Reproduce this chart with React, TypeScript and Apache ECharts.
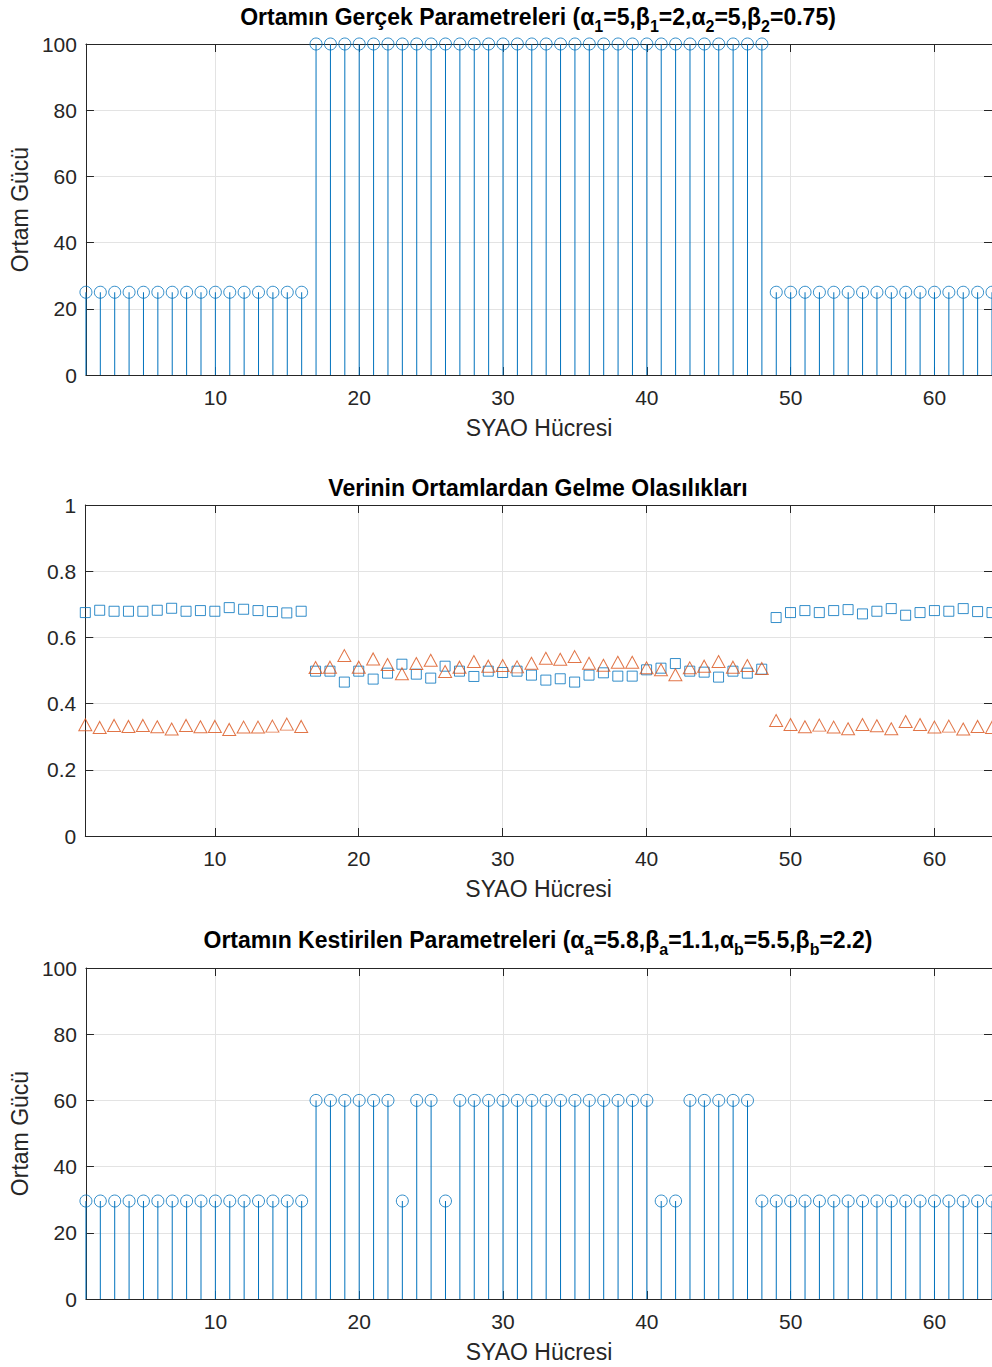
import React, { useEffect, useRef } from "react";
import * as echarts from "echarts";

const cells: number[] = [
  1, 2, 3, 4, 5, 6, 7, 8, 9, 10, 11, 12, 13, 14, 15, 16,
  17, 18, 19, 20, 21, 22, 23, 24, 25, 26, 27, 28, 29, 30, 31, 32,
  33, 34, 35, 36, 37, 38, 39, 40, 41, 42, 43, 44, 45, 46, 47, 48,
  49, 50, 51, 52, 53, 54, 55, 56, 57, 58, 59, 60, 61, 62, 63, 64,
];

const xTickValues: number[] = [10, 20, 30, 40, 50, 60];

const truePower: number[] = [
  25, 25, 25, 25, 25, 25, 25, 25, 25, 25, 25, 25, 25, 25, 25, 25,
  100, 100, 100, 100, 100, 100, 100, 100, 100, 100, 100, 100, 100, 100, 100, 100,
  100, 100, 100, 100, 100, 100, 100, 100, 100, 100, 100, 100, 100, 100, 100, 100,
  25, 25, 25, 25, 25, 25, 25, 25, 25, 25, 25, 25, 25, 25, 25, 25,
];

const probA: number[] = [
  0.675, 0.682, 0.679, 0.679, 0.679, 0.682, 0.688, 0.679, 0.681, 0.679, 0.69, 0.685, 0.681, 0.678, 0.674, 0.679,
  0.498, 0.498, 0.465, 0.498, 0.474, 0.492, 0.519, 0.489, 0.477, 0.513, 0.498, 0.482, 0.498, 0.494, 0.498, 0.486, 0.471,
  0.475, 0.465, 0.486, 0.493, 0.483, 0.483, 0.502, 0.507, 0.521, 0.498, 0.495, 0.48, 0.498, 0.492, 0.504,
  0.66, 0.675, 0.681, 0.675, 0.681, 0.684, 0.671, 0.679, 0.687, 0.667, 0.675, 0.681, 0.679, 0.687, 0.678, 0.675,
];

const probB: number[] = [
  0.336, 0.328, 0.334, 0.331, 0.334, 0.33, 0.323, 0.334, 0.33, 0.331, 0.322, 0.329, 0.329, 0.332, 0.338, 0.331,
  0.509, 0.51, 0.545, 0.51, 0.535, 0.518, 0.49, 0.521, 0.531, 0.497, 0.51, 0.527, 0.513, 0.515, 0.511, 0.522, 0.537,
  0.534, 0.542, 0.522, 0.516, 0.525, 0.525, 0.508, 0.502, 0.487, 0.508, 0.513, 0.527, 0.51, 0.515, 0.506,
  0.349, 0.337, 0.33, 0.335, 0.329, 0.324, 0.337, 0.333, 0.324, 0.346, 0.337, 0.329, 0.332, 0.323, 0.331, 0.328,
];

const estimatedPower: number[] = [
  29.6, 29.6, 29.6, 29.6, 29.6, 29.6, 29.6, 29.6, 29.6, 29.6, 29.6, 29.6, 29.6, 29.6, 29.6, 29.6,
  60, 60, 60, 60, 60, 60, 29.6, 60, 60, 29.6, 60, 60, 60, 60, 60, 60,
  60, 60, 60, 60, 60, 60, 60, 60, 29.6, 29.6, 60, 60, 60, 60, 60, 29.6,
  29.6, 29.6, 29.6, 29.6, 29.6, 29.6, 29.6, 29.6, 29.6, 29.6, 29.6, 29.6, 29.6, 29.6, 29.6, 29.6,
];

const xLabel = "SYAO Hücresi";
const yLabel = "Ortam Gücü";

const FONT = "'Liberation Sans', Arial, Helvetica, sans-serif";
const BLUE = "#0072BD";
const ORANGE = "#D95319";
const AXIS = "#262626";
const GRIDC = "#e3e3e3";

const pairs = (vals: number[]) => cells.map((c, i) => [c, vals[i]]);

const gridTops = [44, 505, 968];
const gridH = 331;

function xAxesFor(g: number, withName: boolean) {
  return [
    {
      gridIndex: g,
      type: "value",
      min: 1,
      max: 64,
      position: "bottom",
      axisLine: { show: true, onZero: false, lineStyle: { color: AXIS, width: 1 } },
      axisTick: { show: true, inside: true, length: 8, customValues: xTickValues, lineStyle: { color: AXIS } },
      axisLabel: { show: true, customValues: xTickValues, fontSize: 21, color: AXIS, fontFamily: FONT, margin: 12 },
      splitLine: { show: true, lineStyle: { color: GRIDC, width: 1 } },
      name: withName ? xLabel : "",
      nameLocation: "middle",
      nameGap: 41,
      nameTextStyle: { fontSize: 23, color: AXIS, fontFamily: FONT },
    },
    {
      gridIndex: g,
      type: "value",
      min: 1,
      max: 64,
      position: "top",
      axisLine: { show: true, onZero: false, lineStyle: { color: AXIS, width: 1 } },
      axisTick: { show: true, inside: true, length: 8, customValues: xTickValues, lineStyle: { color: AXIS } },
      axisLabel: { show: false },
      splitLine: { show: false },
    },
  ];
}

function yAxesFor(g: number, max: number, interval: number, withName: boolean) {
  return [
    {
      gridIndex: g,
      type: "value",
      min: 0,
      max,
      interval,
      position: "left",
      axisLine: { show: true, onZero: false, lineStyle: { color: AXIS, width: 1 } },
      axisTick: { show: true, inside: true, length: 8, lineStyle: { color: AXIS } },
      axisLabel: { show: true, fontSize: 21, color: AXIS, fontFamily: FONT, margin: 9 },
      splitLine: { show: true, lineStyle: { color: GRIDC, width: 1 } },
      name: withName ? yLabel : "",
      nameLocation: "middle",
      nameGap: 53,
      nameTextStyle: { fontSize: 23, color: AXIS, fontFamily: FONT },
    },
    {
      gridIndex: g,
      type: "value",
      min: 0,
      max,
      interval,
      position: "right",
      axisLine: { show: true, onZero: false, lineStyle: { color: AXIS, width: 1 } },
      axisTick: { show: true, inside: true, length: 8, lineStyle: { color: AXIS } },
      axisLabel: { show: false },
      splitLine: { show: false },
    },
  ];
}

function stemSeries(g: number, vals: number[]) {
  return [
    {
      type: "bar",
      xAxisIndex: 2 * g,
      yAxisIndex: 2 * g,
      barWidth: 1,
      itemStyle: { color: BLUE },
      data: pairs(vals),
      silent: true,
    },
    {
      type: "scatter",
      xAxisIndex: 2 * g,
      yAxisIndex: 2 * g,
      symbol: "circle",
      symbolSize: 12,
      clip: false,
      itemStyle: { color: "transparent", borderColor: BLUE, borderWidth: 1 },
      data: pairs(vals),
      silent: true,
    },
  ];
}

const titleMain = { fontSize: 23, fontWeight: "bold", fontFamily: FONT, fill: "#000" };
const titleSub = { fontSize: 16, fontWeight: "bold", fontFamily: FONT, fill: "#000", padding: [18, 0, 0, 0] };

function titleGraphic(text: string, y: number) {
  return {
    type: "text",
    x: 538,
    y,
    style: {
      text,
      align: "center",
      verticalAlign: "middle",
      fontSize: 23,
      fontWeight: "bold",
      fontFamily: FONT,
      fill: "#000",
      rich: { m: titleMain, s: titleSub },
    },
  };
}

export default function App() {
  const ref = useRef<HTMLDivElement>(null);
  useEffect(() => {
    if (!ref.current) return;
    const chart = echarts.init(ref.current, null, { renderer: "svg" });
    const option: any = {
      animation: false,
      backgroundColor: "#ffffff",
      textStyle: { fontFamily: FONT },
      grid: gridTops.map((t) => ({ left: 85.3, width: 908.1, top: t, height: gridH, containLabel: false })),
      xAxis: [...xAxesFor(0, true), ...xAxesFor(1, true), ...xAxesFor(2, true)],
      yAxis: [...yAxesFor(0, 100, 20, true), ...yAxesFor(1, 1, 0.2, false), ...yAxesFor(2, 100, 20, true)],
      series: [
        ...stemSeries(0, truePower),
        {
          type: "scatter",
          xAxisIndex: 2,
          yAxisIndex: 2,
          symbol: "rect",
          symbolSize: 10,
          clip: false,
          itemStyle: { color: "transparent", borderColor: BLUE, borderWidth: 1 },
          data: pairs(probA),
          silent: true,
        },
        {
          type: "scatter",
          xAxisIndex: 2,
          yAxisIndex: 2,
          symbol: "triangle",
          symbolSize: [13, 12],
          clip: false,
          itemStyle: { color: "transparent", borderColor: ORANGE, borderWidth: 1 },
          data: pairs(probB),
          silent: true,
        },
        ...stemSeries(2, estimatedPower),
      ],
      graphic: [
        titleGraphic("{m|Ortamın Gerçek Parametreleri (α}{s|1}{m|=5,β}{s|1}{m|=2,α}{s|2}{m|=5,β}{s|2}{m|=0.75)}", 17),
        titleGraphic("{m|Verinin Ortamlardan Gelme Olasılıkları}", 488),
        titleGraphic("{m|Ortamın Kestirilen Parametreleri (α}{s|a}{m|=5.8,β}{s|a}{m|=1.1,α}{s|b}{m|=5.5,β}{s|b}{m|=2.2)}", 940),
      ],
    };
    chart.setOption(option);
    return () => chart.dispose();
  }, []);
  return (
    <div
      ref={ref}
      style={{ position: "absolute", left: 0, top: 0, width: 992, height: 1367, background: "#fff" }}
    />
  );
}
